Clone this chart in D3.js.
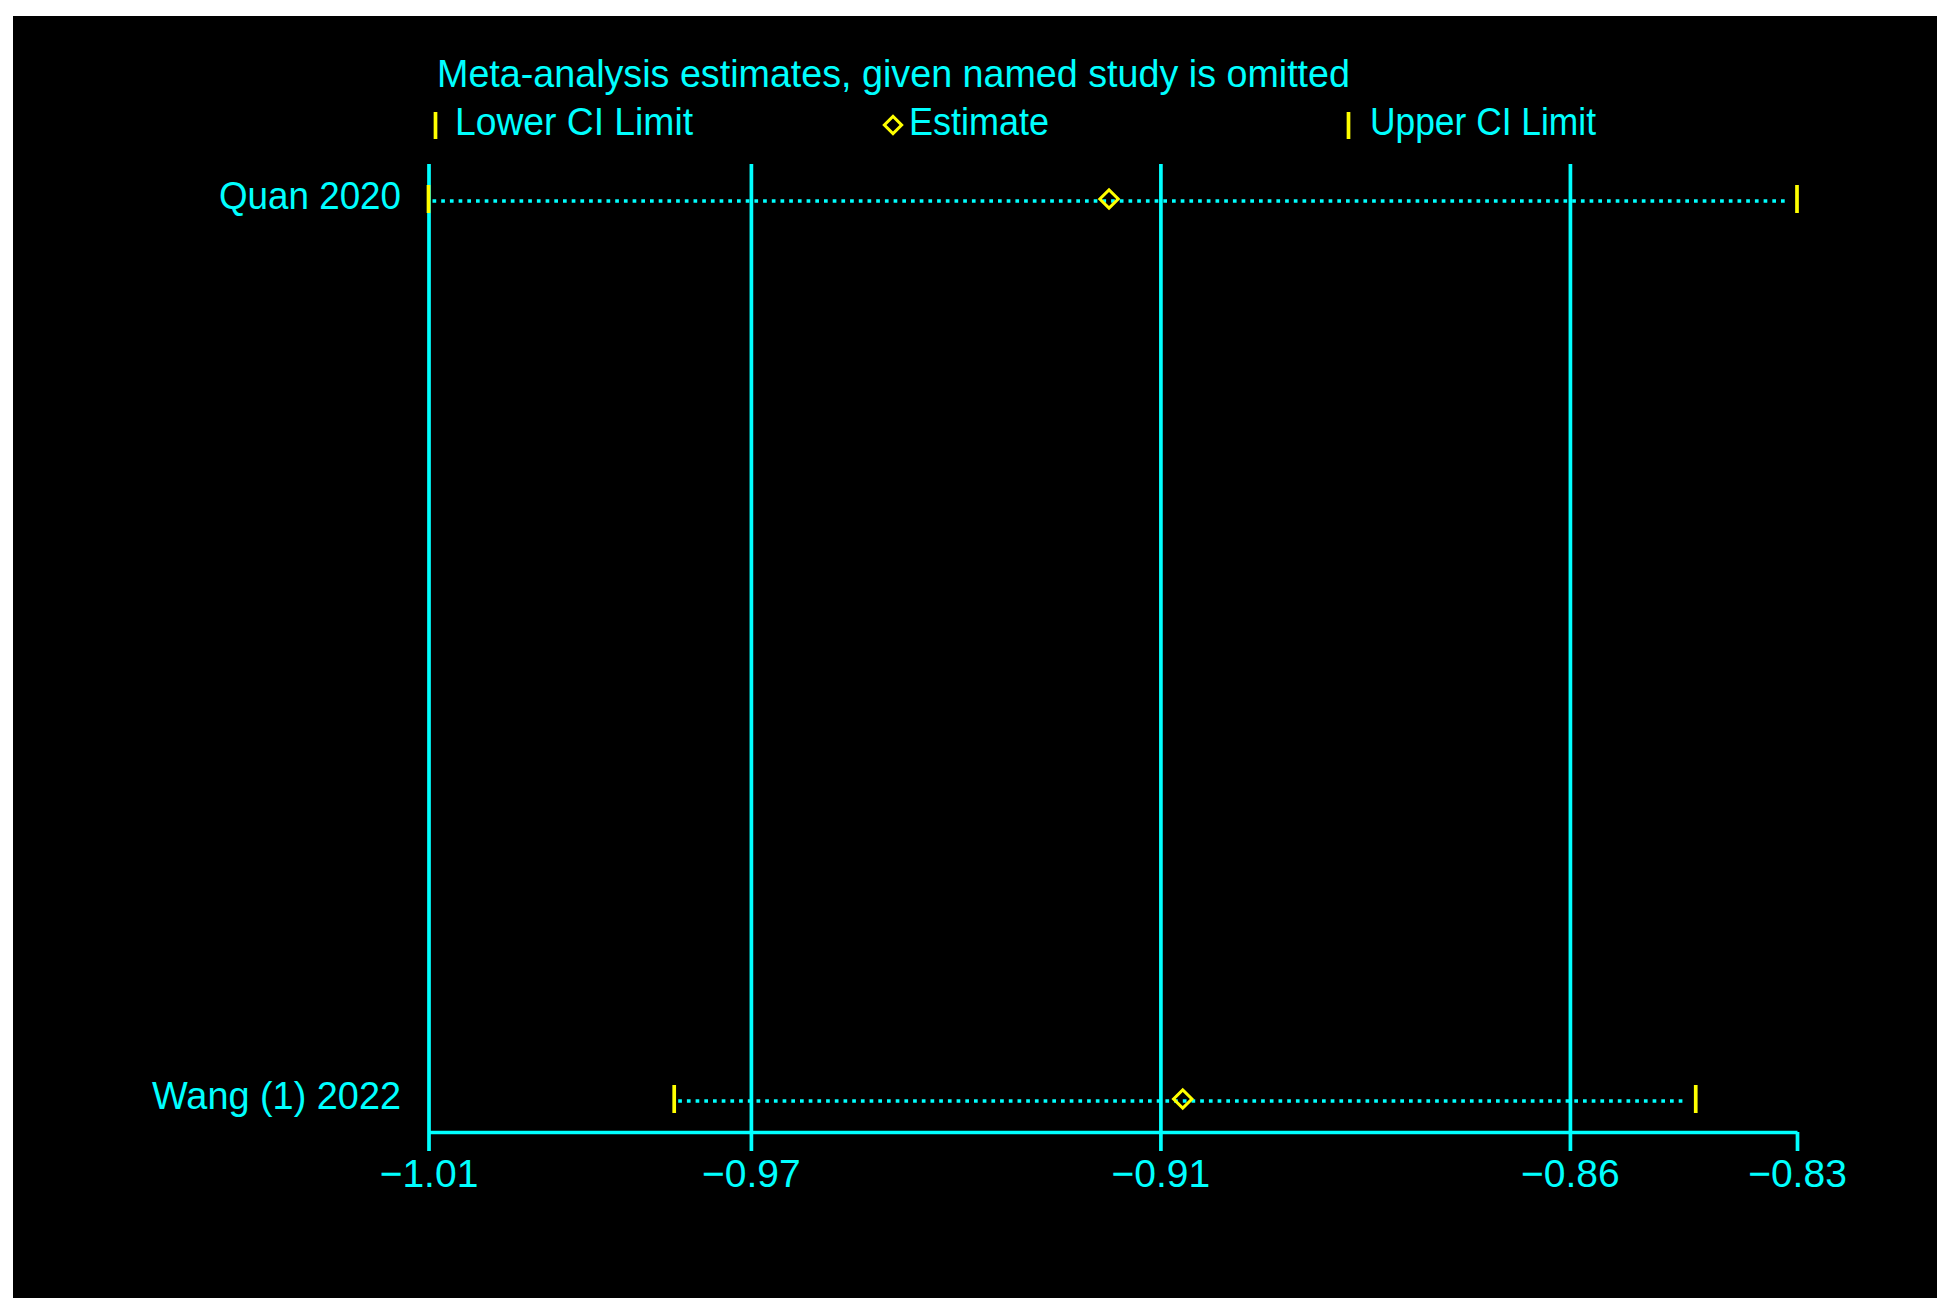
<!DOCTYPE html>
<html>
<head>
<meta charset="utf-8">
<script src="https://cdn.jsdelivr.net/npm/d3@7"></script>
<style>
  body { margin: 0; background: #ffffff; }
  text { font-family: "Liberation Sans", Arial, sans-serif; }
</style>
</head>
<body>
<div id="chart"></div>
<script>
// values
var studies = ["Quan 2020", "Wang (1) 2022"]
var lower = [-1.0108, -0.9778]
var estimate = [-0.9194, -0.9095]
var upper = [-0.8270, -0.8406]
var tickValues = [-1.0108, -0.9675, -0.9125, -0.8575, -0.8270]
var tickLabels = ["\u22121.01", "\u22120.97", "\u22120.91", "\u22120.86", "\u22120.83"]
var legendLabels = ["Lower CI Limit", "Estimate", "Upper CI Limit"]
var title = "Meta-analysis estimates, given named study is omitted"

var data = studies.map(function(s, i) {
  return {study: s, lower: lower[i], est: estimate[i], upper: upper[i]}
})

var width = 1951
var height = 1313
var cyan = "#00ffff"
var yellow = "#ffff00"
var plotTop = 164
var baseY = 1132

var svg = d3.select("#chart").append("svg")
  .attr("width", width)
  .attr("height", height)

// black panel
svg.append("rect")
  .attr("x", 13).attr("y", 16)
  .attr("width", 1924).attr("height", 1282)
  .attr("fill", "#000000")

var x = d3.scaleLinear()
  .domain([tickValues[0], tickValues[tickValues.length - 1]])
  .range([428.5, 1797])

var y = d3.scalePoint()
  .domain(studies)
  .range([199, 1099])

// vertical grid lines
svg.append("g")
  .attr("transform", "translate(0," + baseY + ")")
  .call(d3.axisBottom(x).tickValues(tickValues.slice(0, -1)).tickSize(-(baseY - plotTop)).tickFormat(""))
  .call(g => g.select(".domain").remove())
  .call(g => g.selectAll("line").attr("stroke", cyan).attr("stroke-width", 3.7))

// bottom axis
var xAxis = svg.append("g")
  .attr("transform", "translate(0," + baseY + ")")
  .call(d3.axisBottom(x).tickValues(tickValues).tickSize(19).tickSizeOuter(0).tickPadding(8)
    .tickFormat((d, i) => tickLabels[i]))
xAxis.select(".domain").attr("stroke", cyan).attr("stroke-width", 3.7)
xAxis.selectAll(".tick line").attr("stroke", cyan).attr("stroke-width", 3.7)
xAxis.selectAll(".tick text")
  .attr("fill", cyan)
  .attr("font-size", "39px")
  .attr("font-family", "'Liberation Sans', Arial, sans-serif")

// study labels
var labelWidths = [182, 249]
svg.append("g")
  .selectAll("text")
  .data(data)
  .join("text")
  .attr("x", 401)
  .attr("y", d => y(d.study) + 10)
  .attr("text-anchor", "end")
  .attr("fill", cyan)
  .attr("font-size", "38px")
  .attr("textLength", (d, i) => labelWidths[i])
  .attr("lengthAdjust", "spacingAndGlyphs")
  .text(d => d.study)

var rows = svg.append("g")
  .selectAll("g")
  .data(data)
  .join("g")
  .attr("transform", d => "translate(0," + y(d.study) + ")")

// dotted CI line
rows.append("line")
  .attr("x1", d => x(d.lower) + 4)
  .attr("x2", d => x(d.upper) - 10)
  .attr("y1", 2).attr("y2", 2)
  .attr("stroke", cyan)
  .attr("stroke-width", 3.7)
  .attr("stroke-dasharray", "3.7 5")

// lower and upper limit ticks
rows.append("line")
  .attr("x1", d => x(d.lower)).attr("x2", d => x(d.lower))
  .attr("y1", -14).attr("y2", 14)
  .attr("stroke", yellow).attr("stroke-width", 3.7)
rows.append("line")
  .attr("x1", d => x(d.upper)).attr("x2", d => x(d.upper))
  .attr("y1", -14).attr("y2", 14)
  .attr("stroke", yellow).attr("stroke-width", 3.7)

// estimate diamonds
var diamond = d3.symbol().type(d3.symbolSquare).size(170)
rows.append("path")
  .attr("d", diamond)
  .attr("transform", d => "translate(" + x(d.est) + ",0) rotate(45)")
  .attr("fill", "none")
  .attr("stroke", yellow)
  .attr("stroke-width", 3)

// title and legend
svg.append("text")
  .attr("x", 437).attr("y", 87)
  .attr("fill", cyan)
  .attr("font-size", "39px")
  .attr("textLength", 913)
  .attr("lengthAdjust", "spacingAndGlyphs")
  .text(title)

var legendX = [455, 909, 1370]
var legendW = [238, 140, 226]
svg.append("g")
  .selectAll("text")
  .data(legendLabels)
  .join("text")
  .attr("x", (d, i) => legendX[i])
  .attr("y", 135)
  .attr("fill", cyan)
  .attr("font-size", "38px")
  .attr("textLength", (d, i) => legendW[i])
  .attr("lengthAdjust", "spacingAndGlyphs")
  .text(d => d)

svg.append("line")
  .attr("x1", 435.5).attr("x2", 435.5).attr("y1", 112).attr("y2", 139)
  .attr("stroke", yellow).attr("stroke-width", 3.7)
svg.append("line")
  .attr("x1", 1348.5).attr("x2", 1348.5).attr("y1", 112).attr("y2", 139)
  .attr("stroke", yellow).attr("stroke-width", 3.7)
svg.append("path")
  .attr("d", d3.symbol().type(d3.symbolSquare).size(150))
  .attr("transform", "translate(893,125) rotate(45)")
  .attr("fill", "none")
  .attr("stroke", yellow)
  .attr("stroke-width", 3)
</script>
</body>
</html>
